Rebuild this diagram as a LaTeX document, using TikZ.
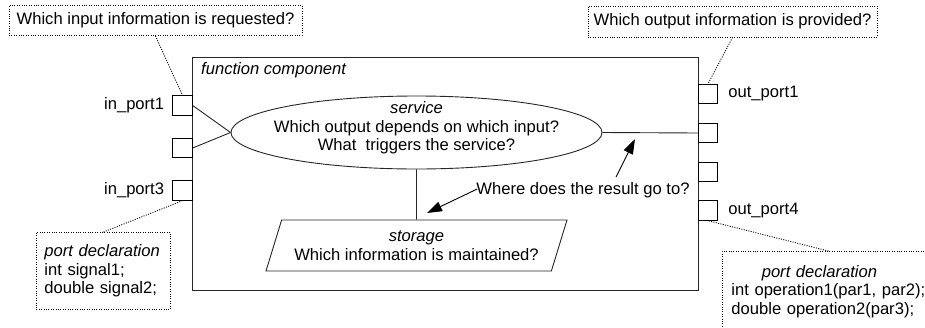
\documentclass[tikz,border=0pt]{standalone}
\usepackage{fontspec}
\setmainfont{Liberation Sans}
\usetikzlibrary{shapes.geometric,arrows.meta}
\newcommand\dfs{\fontsize{16.6}{18.5}\selectfont}
\begin{document}
\begin{tikzpicture}[x=1pt,y=-1pt,
  every node/.style={font=\dfs},
  solidln/.style={line width=0.9pt, draw=black!85},
  dotline/.style={line width=0.9pt, dash pattern=on 1pt off 1.4pt},
  port/.style={draw, line width=0.9pt, minimum width=19.5pt, minimum height=19.5pt, inner sep=0pt},
  qbox/.style={draw, dotline, inner sep=0pt, minimum height=30pt},
  lbl/.style={inner sep=0pt},
  ptr/.style={line width=0.9pt, -{Triangle[length=15pt,width=10pt]}},
]
\useasboundingbox (0,0) rectangle (925,327);
\begin{scope}
\clip (0,0) rectangle (925,327);

% question boxes
\node[qbox, minimum width=293pt] (q1) at (155.5,20.5) {Which input information is requested?};
\node[qbox, minimum width=289pt, minimum height=31pt] (q2) at (732.5,21.5) {Which output information is provided?};

% function component
\node[draw, solidln, anchor=north west, minimum width=506pt, minimum height=233pt, inner sep=0pt] (fc) at (192,57) {};
\node[anchor=west, font=\dfs\itshape, inner sep=1pt] (fclabel) at (200,70.3) {function component};

% ports
\node[port] (in1) at (182.5,105.5) {};
\node[port] (in2) at (182.5,148) {};
\node[port] (in3) at (182.5,190.5) {};
\node[port] (out1) at (708,94) {};
\node[port] (out2) at (708,133) {};
\node[port] (out3) at (708,172) {};
\node[port] (out4) at (708,210.5) {};
\node[lbl, anchor=east] (lin1) at ([xshift=-8pt]in1.west) {in\_port1};
\node[lbl, anchor=east] (lin3) at ([xshift=-8pt]in3.west) {in\_port3};
\node[lbl, anchor=west] (lout1) at ([xshift=10pt]out1.east) {out\_port1};
\node[lbl, anchor=west] (lout4) at ([xshift=10pt]out4.east) {out\_port4};

% service
\node[draw, ellipse, solidln, minimum width=371pt, minimum height=73pt, inner sep=0pt] (svc) at (416.5,132.5) {};
\node[align=center, inner sep=0pt] (svct) at (416.5,128) {\textit{service}\\Which output depends on which input?\\What~ triggers the service?};

% storage
\node[draw, solidln, trapezium, trapezium left angle=62, trapezium right angle=118, trapezium stretches body,
      minimum width=301pt, minimum height=51pt, inner sep=0pt, align=center] (stor) at (416.5,245.5)
      {\textit{storage}\\Which information is maintained?};

% connectors
\draw[solidln] (in1.east) -- (svc.west);
\draw[solidln] (in2.east) -- (svc.west);
\draw[solidln] (svc.east) -- (out2.west);
\draw[solidln] (svc.south) -- (stor.north);

% where text and arrows
\node[inner sep=2pt] (where) at (583,190) {Where does the result go to?};
\coordinate (t1) at (427,213);
\coordinate (s2) at (616,177);
\coordinate (t2) at (635,139);
\draw[ptr] ([xshift=3pt,yshift=1pt]where.west) -- (t1);
\draw[ptr] (s2) -- (t2);

% declarations
\node[draw, dotline, anchor=north west, text width=118pt, inner xsep=8pt, inner ysep=0pt,
      minimum height=77pt, align=left] (d1) at (36,232)
      {\mbox{\textit{port declaration}}\\int signal1;\\double signal2;};
\node[draw, dotline, anchor=north west, text width=194pt, inner xsep=9pt, inner ysep=0pt,
      minimum height=80pt, align=left] (d2) at (722,251)
      {\makebox[176pt]{\textit{port declaration}}\\int operation1(par1, par2);\\double operation2(par3);};

% dotted connectors
\draw[dotline] (q1.south) -- (in1.north);
\draw[dotline] (q2.south) -- (out1.north);
\draw[dotline] (d1.north) -- (in3.south);
\draw[dotline] (d2.north) -- (out4.south);
\end{scope}
\end{tikzpicture}
\end{document}
